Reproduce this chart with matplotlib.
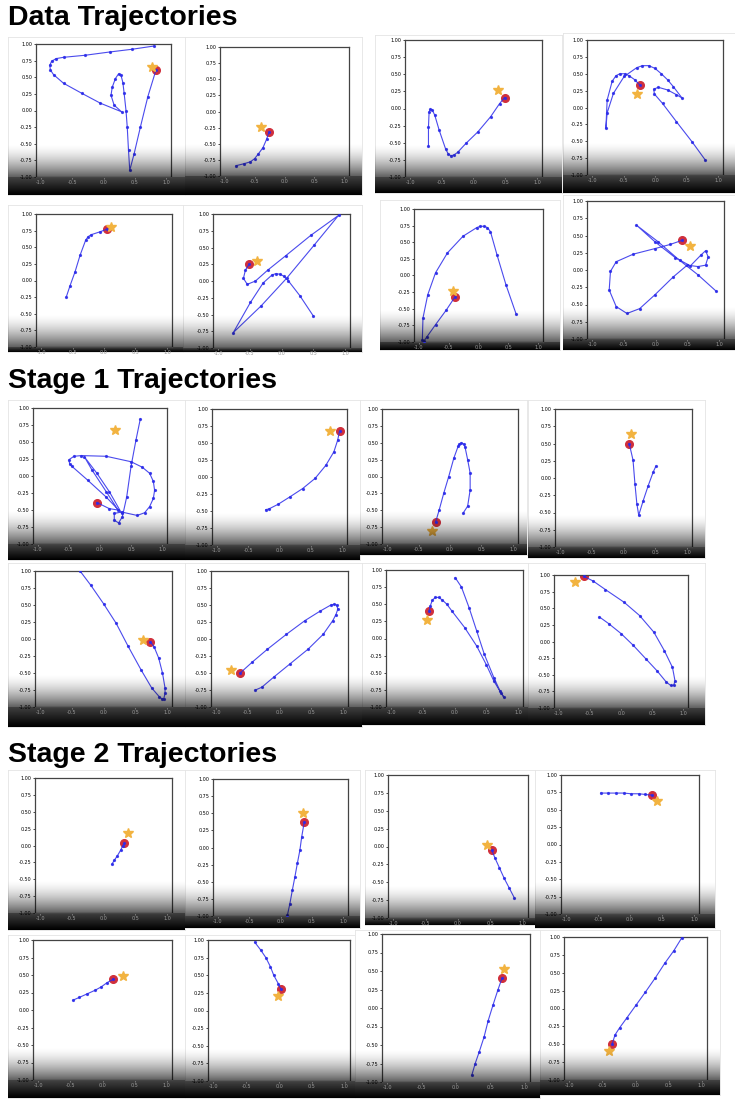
import numpy as np
import matplotlib
matplotlib.use("Agg")
import matplotlib.pyplot as plt

W, H = 735, 1104

# ---- trajectories (x, y); last point = red marker ----
data1 = [(0.81, 0.97), (0.45, 0.92), (0.10, 0.88), (-0.30, 0.83), (-0.64, 0.80), (-0.76, 0.78),
         (-0.83, 0.74), (-0.86, 0.68), (-0.85, 0.61), (-0.80, 0.54), (-0.64, 0.41), (-0.35, 0.26),
         (-0.05, 0.11), (0.29, -0.02), (0.17, 0.08), (0.12, 0.23), (0.14, 0.35), (0.19, 0.48),
         (0.24, 0.55), (0.28, 0.53), (0.31, 0.42), (0.33, 0.26), (0.36, 0.0), (0.38, -0.25),
         (0.40, -0.60), (0.42, -0.90), (0.49, -0.65), (0.59, -0.25), (0.71, 0.21), (0.84, 0.61)]
data2 = [(-0.81, -0.84), (-0.68, -0.81), (-0.57, -0.78), (-0.50, -0.73), (-0.44, -0.66),
         (-0.36, -0.56), (-0.30, -0.43), (-0.26, -0.32)]
data3 = [(-0.71, -0.55), (-0.71, -0.27), (-0.70, -0.05), (-0.68, -0.01), (-0.65, -0.02),
         (-0.61, -0.10), (-0.54, -0.32), (-0.44, -0.59), (-0.40, -0.66), (-0.36, -0.69),
         (-0.31, -0.68), (-0.25, -0.64), (-0.12, -0.51), (0.07, -0.34), (0.27, -0.12),
         (0.41, 0.07), (0.49, 0.16)]
data4 = [(0.80, -0.78), (0.59, -0.51), (0.34, -0.21), (0.12, 0.06), (-0.01, 0.20), (-0.02, 0.27),
         (0.05, 0.30), (0.20, 0.26), (0.34, 0.19), (0.43, 0.14), (0.29, 0.31), (0.20, 0.41),
         (0.10, 0.50), (0.0, 0.58), (-0.10, 0.62), (-0.20, 0.62), (-0.29, 0.59), (-0.49, 0.46),
         (-0.66, 0.21), (-0.76, -0.08), (-0.78, -0.31), (-0.76, 0.11), (-0.68, 0.39), (-0.62, 0.47),
         (-0.56, 0.50), (-0.48, 0.50), (-0.41, 0.47), (-0.32, 0.41), (-0.24, 0.33)]
data5 = [(-0.60, -0.25), (-0.54, -0.08), (-0.46, 0.13), (-0.38, 0.38), (-0.29, 0.61), (-0.25, 0.66),
         (-0.20, 0.69), (-0.07, 0.73), (0.04, 0.77)]
data6 = [(0.50, -0.52), (0.29, -0.22), (0.11, 0.0), (0.04, 0.07), (-0.02, 0.10), (-0.09, 0.11),
         (-0.15, 0.09), (-0.29, -0.03), (-0.49, -0.32), (-0.76, -0.77), (-0.32, -0.37), (0.08, 0.04),
         (0.51, 0.53), (0.90, 0.98), (0.46, 0.68), (0.07, 0.38), (-0.22, 0.16), (-0.41, 0.0),
         (-0.54, -0.05), (-0.60, 0.04), (-0.57, 0.16), (-0.51, 0.25)]
data7 = [(0.63, -0.58), (0.46, -0.14), (0.31, 0.31), (0.20, 0.66), (0.15, 0.72), (0.10, 0.74),
         (0.03, 0.74), (-0.03, 0.72), (-0.26, 0.59), (-0.52, 0.34), (-0.72, 0.04), (-0.85, -0.29),
         (-0.93, -0.64), (-0.94, -0.97), (-0.91, -0.98), (-0.87, -0.93), (-0.72, -0.74),
         (-0.54, -0.52), (-0.40, -0.33)]
data8 = [(0.96, -0.31), (0.67, -0.07), (0.38, 0.14), (0.04, 0.41), (-0.30, 0.65), (-0.01, 0.41),
         (0.31, 0.18), (0.55, 0.06), (0.72, 0.22), (0.79, 0.28), (0.83, 0.19), (0.79, 0.07),
         (0.67, 0.05), (0.50, 0.07), (0.28, -0.10), (-0.01, -0.36), (-0.25, -0.56), (-0.45, -0.63),
         (-0.62, -0.53), (-0.73, -0.29), (-0.71, -0.02), (-0.62, 0.12), (-0.35, 0.23), (-0.01, 0.31),
         (0.23, 0.37), (0.42, 0.43)]

s1_1 = [(0.65, 0.84), (0.58, 0.53), (0.50, 0.14), (0.43, -0.31), (0.36, -0.60), (0.30, -0.69),
        (0.23, -0.65), (0.23, -0.55), (0.35, -0.53), (0.60, -0.58), (0.72, -0.54), (0.80, -0.45),
        (0.86, -0.33), (0.88, -0.21), (0.86, -0.08), (0.80, 0.04), (0.68, 0.13), (0.50, 0.21),
        (0.10, 0.29), (-0.30, 0.30), (-0.42, 0.29), (-0.50, 0.24), (-0.49, 0.18), (-0.45, 0.14),
        (-0.20, -0.06), (0.10, -0.31), (0.35, -0.55), (0.15, -0.23), (-0.05, 0.04), (-0.25, 0.28),
        (-0.13, 0.09), (0.10, -0.23), (0.29, -0.50), (0.15, -0.48), (-0.05, -0.39)]
s1_2 = [(-0.22, -0.48), (-0.17, -0.47), (-0.02, -0.40), (0.17, -0.29), (0.37, -0.17), (0.57, -0.02),
        (0.74, 0.17), (0.87, 0.37), (0.93, 0.54), (0.96, 0.67)]
s1_3 = [(0.21, -0.54), (0.28, -0.44), (0.32, -0.20), (0.32, 0.05), (0.28, 0.25), (0.24, 0.43),
        (0.22, 0.48), (0.18, 0.50), (0.15, 0.48), (0.13, 0.45), (0.06, 0.27), (-0.02, 0.0),
        (-0.10, -0.25), (-0.17, -0.49), (-0.23, -0.68)]
s1_4 = [(0.51, 0.17), (0.47, 0.09), (0.39, -0.11), (0.31, -0.33), (0.24, -0.54), (0.21, -0.37),
        (0.18, -0.08), (0.15, 0.26), (0.09, 0.50)]
s1_5 = [(-0.37, 1.0), (-0.20, 0.79), (0.0, 0.52), (0.20, 0.23), (0.39, -0.11), (0.59, -0.45),
        (0.76, -0.72), (0.88, -0.85), (0.92, -0.88), (0.95, -0.88), (0.97, -0.80), (0.97, -0.72),
        (0.93, -0.50), (0.87, -0.28), (0.80, -0.12), (0.74, -0.04)]
s1_6 = [(-0.38, -0.75), (-0.28, -0.71), (-0.09, -0.56), (0.16, -0.37), (0.45, -0.15), (0.69, 0.07),
        (0.84, 0.27), (0.89, 0.36), (0.92, 0.44), (0.90, 0.50), (0.86, 0.51), (0.81, 0.50),
        (0.64, 0.41), (0.40, 0.27), (0.11, 0.07), (-0.19, -0.15), (-0.43, -0.34), (-0.62, -0.50)]
s1_7 = [(0.01, 0.89), (0.11, 0.75), (0.23, 0.45), (0.35, 0.11), (0.47, -0.23), (0.62, -0.57),
        (0.72, -0.77), (0.78, -0.86), (0.73, -0.79), (0.62, -0.62), (0.50, -0.38), (0.35, -0.11),
        (0.16, 0.16), (-0.04, 0.40), (-0.12, 0.50), (-0.19, 0.56), (-0.25, 0.60), (-0.30, 0.60),
        (-0.35, 0.56), (-0.38, 0.48), (-0.40, 0.40)]
s1_8 = [(-0.35, 0.37), (-0.20, 0.27), (0.0, 0.12), (0.20, -0.06), (0.40, -0.26), (0.58, -0.44),
        (0.73, -0.61), (0.80, -0.66), (0.85, -0.66), (0.87, -0.59), (0.83, -0.39), (0.70, -0.14),
        (0.53, 0.14), (0.30, 0.39), (0.05, 0.59), (-0.25, 0.78), (-0.45, 0.91), (-0.60, 0.98)]

s2_1 = [(0.13, -0.28), (0.17, -0.22), (0.22, -0.15), (0.27, -0.07), (0.30, -0.01), (0.33, 0.03)]
s2_2 = [(0.11, -0.99), (0.15, -0.82), (0.19, -0.62), (0.23, -0.43), (0.27, -0.23), (0.31, -0.04),
        (0.34, 0.16), (0.38, 0.37)]
s2_3 = [(0.87, -0.72), (0.79, -0.58), (0.71, -0.44), (0.64, -0.30), (0.57, -0.16), (0.52, -0.05)]
s2_4 = [(-0.46, 0.74), (-0.34, 0.74), (-0.22, 0.74), (-0.10, 0.74), (0.02, 0.73), (0.14, 0.73),
        (0.24, 0.72), (0.34, 0.71)]
s2_5 = [(-0.46, 0.14), (-0.36, 0.18), (-0.24, 0.23), (-0.12, 0.28), (-0.02, 0.33), (0.07, 0.39),
        (0.17, 0.44)]
s2_6 = [(-0.37, 0.97), (-0.28, 0.86), (-0.20, 0.75), (-0.13, 0.62), (-0.08, 0.50), (-0.01, 0.38),
        (0.03, 0.30)]
s2_7 = [(0.23, -0.91), (0.28, -0.75), (0.34, -0.59), (0.41, -0.39), (0.47, -0.17), (0.54, 0.04),
        (0.61, 0.24), (0.67, 0.40)]
s2_8 = [(0.70, 0.99), (0.58, 0.81), (0.44, 0.63), (0.30, 0.43), (0.15, 0.23), (0.01, 0.05),
        (-0.13, -0.13), (-0.24, -0.27), (-0.31, -0.37), (-0.35, -0.49)]

data_goals = [(0.78, 0.66), (-0.39, -0.24), (0.39, 0.27), (-0.29, 0.20),
              (0.11, 0.80), (-0.38, 0.30), (-0.42, -0.24), (0.55, 0.35)]
stage1_goals = [(0.24, 0.67), (0.81, 0.67), (-0.28, -0.80), (0.12, 0.64),
                (0.62, -0.01), (-0.76, -0.45), (-0.44, 0.27), (-0.74, 0.89)]
stage2_goals = [(0.39, 0.19), (0.36, 0.50), (0.44, 0.02), (0.43, 0.62),
                (0.32, 0.49), (-0.01, 0.21), (0.70, 0.53), (-0.40, -0.60)]

section_titles = ["Data Trajectories", "Stage 1 Trajectories", "Stage 2 Trajectories"]
yticks = [-1.0, -0.75, -0.5, -0.25, 0.0, 0.25, 0.5, 0.75, 1.0]
xticks = [-1.0, -0.5, 0.0, 0.5, 1.0]

trajs = [data1, data2, data3, data4, data5, data6, data7, data8,
         s1_1, s1_2, s1_3, s1_4, s1_5, s1_6, s1_7, s1_8,
         s2_1, s2_2, s2_3, s2_4, s2_5, s2_6, s2_7, s2_8]
goals = data_goals + stage1_goals + stage2_goals

# plot-area rectangles in pixels: left, right, top, bottom
axes_px = [
    (36, 171, 44, 177), (220, 349, 47, 176), (405, 542, 40, 177), (587, 723, 40, 175),
    (36, 172, 214, 347), (213, 350, 214, 348), (414, 543, 209, 342), (587, 724, 201, 339),
    (33, 167, 408, 544), (212, 347, 409, 545), (382, 518, 409, 544), (555, 692, 409, 547),
    (35, 172, 571, 707), (211, 348, 571, 707), (386, 523, 570, 707), (554, 688, 575, 708),
    (35, 172, 778, 913), (213, 348, 779, 916), (388, 528, 775, 918), (561, 699, 775, 914),
    (33, 172, 940, 1080), (208, 350, 940, 1081), (382, 530, 934, 1082), (564, 707, 937, 1080),
]
# screenshot boxes in pixels: left, right, top, bottom
boxes_px = [
    (8, 185, 37, 195), (185, 362, 37, 195), (375, 562, 35, 193), (563, 735, 33, 193),
    (8, 183, 205, 352), (183, 362, 205, 352), (380, 560, 200, 350), (563, 735, 195, 350),
    (8, 185, 400, 560), (185, 360, 400, 560), (360, 527, 400, 555), (528, 705, 400, 558),
    (8, 185, 563, 727), (185, 362, 563, 727), (362, 528, 563, 725), (528, 705, 563, 725),
    (8, 185, 770, 930), (185, 360, 770, 928), (365, 535, 770, 925), (535, 715, 770, 928),
    (8, 185, 935, 1098), (185, 355, 935, 1098), (355, 540, 930, 1098), (540, 720, 930, 1095),
]
title_y = [18, 381, 755]


def rect(l, r, t, b):
    return [l / W, 1 - b / H, (r - l) / W, (b - t) / H]


fig = plt.figure(figsize=(W / 100, H / 100), dpi=100)

for text, y in zip(section_titles, title_y):
    fig.text(8 / W, 1 - y / H, text, fontsize=20.5, fontweight="bold",
             family=["Liberation Sans", "DejaVu Sans"], va="center", ha="left")

for i, (pts, goal) in enumerate(zip(trajs, goals)):
    l, r, t, b = axes_px[i]
    bl, br, bt, bb = boxes_px[i]

    # dark strip under the plot (screenshot shading), behind the tick labels
    bg = fig.add_axes(rect(bl, br, b, bb), zorder=0)
    strip = np.linspace(0.26, 0.0, 30).reshape(-1, 1)
    bg.imshow(strip, cmap="gray", vmin=0, vmax=1, aspect="auto", extent=[0, 1, 0, 1])
    bg.axis("off")
    # faint frame around the screenshot
    fr = fig.add_axes(rect(bl, br, bt, bb), zorder=-1)
    fr.set_xticks([])
    fr.set_yticks([])
    for s in fr.spines.values():
        s.set_color("#e4e4e4")
        s.set_linewidth(0.6)

    ax = fig.add_axes(rect(l, r, t, b), zorder=1)
    xs = [p[0] for p in pts]
    ys = [p[1] for p in pts]
    ax.plot(xs[-1], ys[-1], "o", color="#d0303c", ms=5.5, zorder=2)
    ax.plot(xs, ys, "-", color="#2b2bea", lw=0.8, marker="o", ms=1.3, alpha=0.85, zorder=3)
    ax.plot(goal[0], goal[1], "*", color="#f2b340", ms=7, zorder=4)
    ax.set_xlim(-1.08, 1.08)
    ax.set_ylim(-1.0, 1.0)
    ax.set_xticks(xticks)
    ax.set_yticks(yticks)
    ax.set_xticklabels([f"{v:.1f}" for v in xticks])
    ax.set_yticklabels([f"{v:.2f}" for v in yticks])
    ax.tick_params(axis="both", labelsize=3.5, length=1.5, width=0.5, pad=1)
    ax.tick_params(axis="x", labelcolor="#9a9a9a", color="#9a9a9a")
    for s in ax.spines.values():
        s.set_color("#444444")
        s.set_linewidth(0.9)

    # gradient darkening the lower part of the screenshot
    ov = fig.add_axes(rect(bl, br, b - 34, b), zorder=2)
    ramp = np.zeros((40, 1, 4))
    ramp[:, 0, 3] = np.linspace(0.0, 0.74, 40) ** 1.6
    ov.imshow(ramp, aspect="auto", extent=[0, 1, 0, 1])
    ov.axis("off")

fig.savefig("out.png", dpi=100)
